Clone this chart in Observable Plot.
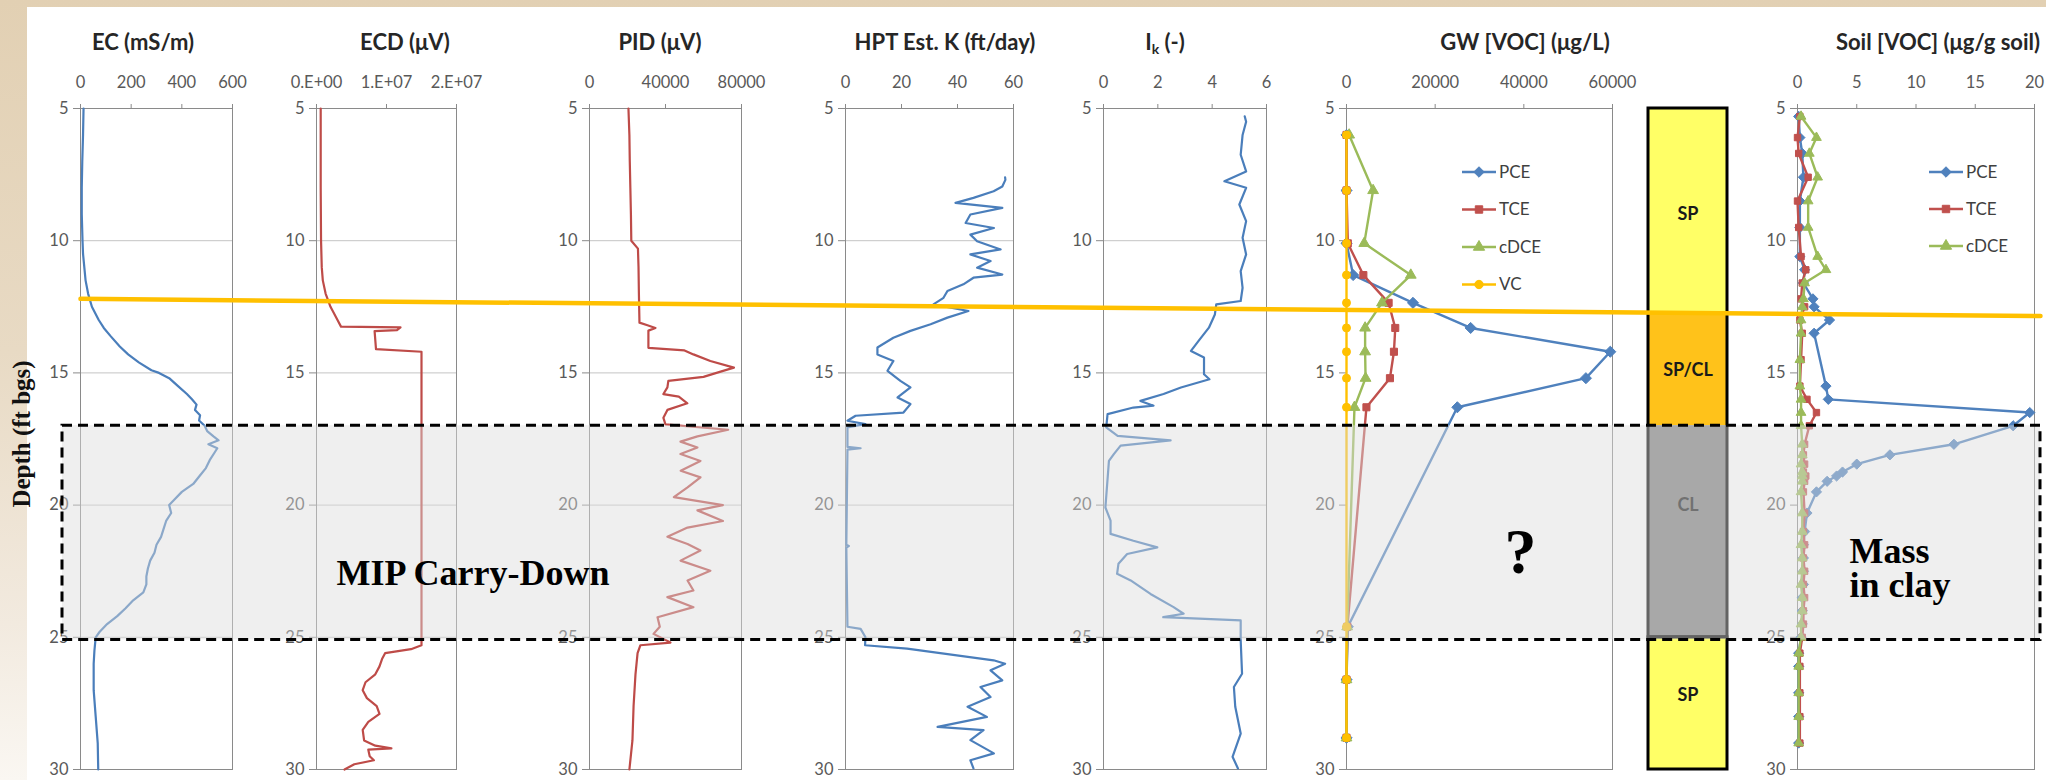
<!DOCTYPE html>
<html>
<head>
<meta charset="utf-8">
<script src="https://cdn.jsdelivr.net/npm/d3@7"></script>
<script src="https://cdn.jsdelivr.net/npm/@observablehq/plot@0.6"></script>
<style>
  html, body { margin:0; padding:0; background:#fff; }
  #root { position:relative; width:2046px; height:780px; overflow:hidden;
          background: linear-gradient(180deg, #e2d0b3 0%, #e8dac4 45%, #f2eadf 80%, #faf7f2 100%); }
  #sheet { position:absolute; left:27px; top:7px; width:2019px; height:773px; background:#fff; }
  .title { position:absolute; top:28px; transform:translateX(-50%); font-family:Lato, sans-serif; font-weight:700;
           font-size:22px; color:#262626; white-space:nowrap; line-height:28px; }
  .title sub { font-size:14px; vertical-align:-4px; line-height:0; }
  .ylab { position:absolute; left:22px; top:434px; transform:translate(-50%,-50%) rotate(-90deg);
          font-family:"Liberation Serif", serif; font-weight:700; font-size:25px; color:#111; white-space:nowrap; }
  svg { overflow:visible; }
</style>
</head>
<body>
<div id="root"><div id="sheet"></div></div>
<script>
// ================= DATA =================
const depthTicks = [5, 10, 15, 20, 25, 30];
const gridDepths = [10, 15, 20, 25];

const ecTicks = [0, 200, 400, 600];
const ecdTicks = [0, 1e7, 2e7];
const ecdTickLabels = ["0.E+00", "1.E+07", "2.E+07"];
const pidTicks = [0, 40000, 80000];
const hptTicks = [0, 20, 40, 60];
const ikTicks = [0, 2, 4, 6];
const gwTicks = [0, 20000, 40000, 60000];
const soilTicks = [0, 5, 10, 15, 20];

const panelTitles = ["EC (mS/m)", "ECD (μV)", "PID (μV)", "HPT Est. K (ft/day)", "I<sub>k</sub> (-)", "GW [VOC] (μg/L)", "Soil [VOC] (μg/g soil)"];

// EC log (mS/m)
const ecDepth = [5,6,7,8,9,10,10.5,11,11.5,12,12.5,13,13.3,13.6,14,14.3,14.6,14.9,15.0,15.2,15.5,15.8,16.0,16.2,16.4,16.6,16.8,17.0,17.2,17.4,17.55,17.7,17.85,18.0,18.3,18.6,18.9,19.2,19.5,19.8,20.0,20.3,20.6,20.9,21.2,21.5,21.8,22.1,22.4,22.7,23.0,23.3,23.6,23.9,24.2,24.5,24.8,25.0,25.5,26,27,28,29,30];
const ecValue = [12,10,7,5,5,8,10,15,20,30,45,72,92,118,155,188,230,280,310,350,385,420,440,458,452,472,468,490,500,525,545,505,540,530,510,495,470,445,400,370,350,358,338,328,318,300,292,275,266,260,260,248,208,178,145,105,75,60,55,52,52,60,68,70];

// ECD log (uV)
const ecdDepth = [5,8,10,11,11.5,12,12.5,13,13.25,13.28,13.38,13.42,14.1,14.2,25.3,25.45,25.6,25.8,26.1,26.4,26.7,27.0,27.3,27.6,27.9,28.2,28.5,28.9,29.1,29.2,29.25,29.5,29.65,29.8,30];
const ecdValue = [6e5,6e5,6.5e5,7.5e5,9e5,1.3e6,2.0e6,3.0e6,3.5e6,1.2e7,1.15e7,8.3e6,8.5e6,1.5e7,1.5e7,1.35e7,9.8e6,9.4e6,9.0e6,8.4e6,7.0e6,6.6e6,7.2e6,8.6e6,9.0e6,7.4e6,6.6e6,6.8e6,8.4e6,1.07e7,7.4e6,7.6e6,8.2e6,5.4e6,4.0e6];

// PID log (uV)
const pidDepth = [5,6,7,8,9,10,10.3,11,12,13.1,13.2,13.3,13.4,14.05,14.15,14.3,14.55,14.8,14.95,15.15,15.3,15.55,15.8,15.9,16.15,16.4,16.7,16.95,17.15,17.4,17.6,17.82,18.07,18.33,18.7,18.95,19.33,19.7,20.0,20.2,20.6,20.85,21.2,21.47,21.72,22.1,22.48,22.85,23.23,23.48,23.86,24.24,24.6,24.87,25.2,25.3,25.6,26.4,27.6,28.9,30];
const pidValue = [20500,21000,21200,21500,21800,22000,25500,25800,26000,26300,30500,34700,31000,31000,50000,54700,63600,76000,69000,60000,41500,41000,38900,47000,51500,41000,38900,40000,73000,56800,47900,56800,47900,58400,48000,58400,51600,44400,70200,56800,70200,51600,41000,51600,58400,47900,63600,51600,54700,41000,54700,35800,37000,33700,42600,26800,25300,24200,23200,22600,21000];

// HPT estimated K (ft/day)
const hptDepth = [7.6,7.7,7.95,8.13,8.38,8.57,8.76,9.01,9.33,9.52,9.77,10.02,10.33,10.52,10.77,11.02,11.28,11.4,11.65,11.9,12.16,12.41,12.66,12.91,13.16,13.41,13.67,14.04,14.3,14.55,14.92,15.3,15.55,15.93,16.18,16.5,16.62,16.81,16.94,17.06,17.8,17.85,17.9,21.5,21.55,21.6,24.6,24.68,24.99,25.3,25.43,25.87,26.0,26.25,26.63,26.88,27.26,27.63,28.01,28.39,28.51,28.89,29.39,29.65,29.96];
const hptValue = [57,57.1,56,52.9,45.7,39.3,56,44.6,42.9,53,44.6,47,55.4,44.6,51.8,47,56,45.7,42.1,36.4,35,31.4,43.9,36.4,30.4,23.2,17.1,11.4,11.4,17.1,15,19.6,23.2,18.6,23.2,20.7,3.6,0.7,7.1,0.7,0.7,5.4,0.7,0.3,1.2,0.3,0.7,5.4,7.1,7,22,52.9,57,51.8,56,48.2,51.8,43.6,50.5,32.9,49.3,44.6,53,44.6,45.7];

// Ik (-)
const ikDepth = [5.3,5.5,6.0,6.75,7.38,7.75,8.0,8.63,9.26,9.89,10.52,11.15,11.78,12.28,12.41,12.79,13.29,13.79,14.17,14.42,15.05,15.24,15.55,15.8,16.06,16.24,16.31,16.56,17.06,17.38,17.55,17.75,18.07,18.33,20.09,20.59,21.09,21.35,21.6,21.85,22.22,22.6,22.85,23.36,23.86,24.11,24.24,24.36,24.49,25.12,26.38,26.88,27.63,28.64,29.52,29.96];
const ikValue = [5.2,5.25,5.12,5.05,5.25,4.45,5.25,5.0,5.25,5.12,5.25,5.05,5.12,5.05,4.15,4.1,3.88,3.5,3.22,3.7,3.7,3.9,2.85,2.21,1.36,1.84,1.1,0.15,0.1,0.52,2.47,0.63,0.38,0.2,0.07,0.26,0.26,1.1,1.98,0.87,0.55,0.5,1.0,1.73,2.58,2.95,2.2,5.05,5.05,5.05,5.1,4.8,4.85,5.05,4.75,4.95];

// Groundwater VOC (ug/L)
const gwDepth = [6.0, 8.1, 10.1, 11.3, 12.35, 13.3, 14.2, 15.2, 16.3, 24.6, 26.6, 28.8];
const gwPCE  = [0, 0, 0, 1500, 15000, 28000, 59500, 54000, 25000, 300, 0, 0];
const gwTCE  = [0, 0, 300, 3800, 9500, 11000, 10700, 9800, 4500, 200, 0, 0];
const gwCDCE = [600, 6000, 4000, 14500, 8000, 4200, 4200, 4300, 1800, 150, 0, 0];
const gwVC   = [0, 0, 0, 0, 0, 0, 0, 0, 0, 0, 0, 0];
const gwNames = ["PCE", "TCE", "cDCE", "VC"];

// Soil VOC (ug/g soil)
const soilDepth = [5.3,6.1,6.7,7.6,8.5,9.5,10.6,11.1,11.6,12.2,12.5,13.0,13.5,14.5,15.5,16.0,16.5,17.0,17.7,18.1,18.45,18.75,18.9,19.1,19.5,20.3,21.0,21.5,22.0,22.5,23.0,23.5,24.0,24.5,25.0,25.6,26.1,27.1,28.0,29.0];
const soilPCE  = [0.1,0.2,0.4,0.5,0.2,0.2,0.2,0.6,0.5,1.3,1.4,2.7,1.4,null,2.4,2.6,19.6,18.2,13.2,7.8,5.0,3.8,3.3,2.5,1.6,0.8,0.6,0.5,0.5,0.5,0.5,0.4,0.4,0.4,0.3,0.1,0.1,0.1,0.1,0.1];
const soilTCE  = [0.2,0.0,0.1,0.9,0.0,0.1,0.3,0.7,0.4,0.3,0.6,0.2,0.4,0.3,0.2,0.8,1.6,1.0,0.6,0.5,0.6,0.5,0.7,0.6,0.5,0.6,0.5,0.6,0.5,0.6,0.5,0.6,0.5,0.5,0.4,0.2,0.2,0.2,0.2,0.2];
const soilCDCE = [0.3,1.6,1.0,1.7,0.9,0.9,1.7,2.4,0.6,0.5,0.4,0.3,0.3,0.2,0.2,0.3,0.3,0.3,0.4,0.4,0.3,0.4,0.4,0.4,0.3,0.4,0.4,0.3,0.4,0.4,0.3,0.4,0.4,0.3,0.3,0.1,0.1,0.1,0.1,0.1];
const soilNames = ["PCE", "TCE", "cDCE"];

// Lithology
const lithoTop    = [5, 12.75, 17, 25];
const lithoBottom = [12.75, 17, 25, 30];
const lithoCode   = ["SP", "SP/CL", "CL", "SP"];
const lithoLabelDepth = [9, 14.9, 20, 27.2];

// Annotations
const annotationTexts = ["MIP Carry-Down", "?", "Mass", "in clay"];
const depthAxisLabel = "Depth (ft bgs)";
const clayZone = [17, 25.1];          // depth range of the dashed box
const orangeLineDepth = [12.2, 12.85]; // left and right ends

// ================= STYLE =================
const W = 2046, H = 780, MT = 108, MB = 11;
const BLUE = "#4a7ebb", RED = "#be4b48", GREEN = "#9bbb59", ORANGE = "#ffc000";
const seriesColor = {PCE: "#4f81bd", TCE: "#c0504d", cDCE: GREEN, VC: ORANGE};
const seriesSymbol = {PCE: "diamond2", TCE: "square", cDCE: "triangle", VC: "circle"};
const root = document.getElementById("root");
const baseStyle = {fontFamily: "Lato, sans-serif", fontSize: "16.5px", color: "#595959", background: "none", overflow: "visible"};

function place(el, left, top) {
  el.style.position = "absolute";
  el.style.left = left + "px";
  el.style.top = top + "px";
  root.appendChild(el);
}
const pts = (ds, vs) => ds.map((d, i) => ({d, v: vs[i]})).filter(p => p.v != null);

function panel({x1, x2, domain, ticks, format, grid, marks}) {
  const mL = 50, mR = 4;
  const svg = Plot.plot({
    width: x2 - x1 + mL + mR, height: H,
    marginTop: MT, marginBottom: MB, marginLeft: mL, marginRight: mR,
    x: {domain}, y: {domain: [5, 30], reverse: true},
    style: baseStyle,
    marks: [
      grid ? Plot.ruleY(gridDepths, {stroke: "#c4c4c4", strokeWidth: 1}) : null,
      Plot.frame({stroke: "#8a8a8a", strokeWidth: 1}),
      Plot.axisX(ticks, {anchor: "top", tickSize: 5, tickPadding: 16, tickFormat: format || (d => String(d)), label: null, stroke: "#8a8a8a"}),
      Plot.axisY(depthTicks, {anchor: "left", tickSize: 7, tickPadding: 5, label: null, stroke: "#8a8a8a"}),
      ...marks
    ]
  });
  place(svg, x1 - mL, 0);
}

const logLine = (ds, vs, color) => Plot.line(pts(ds, vs), {x: "v", y: "d", stroke: color, strokeWidth: 2.2, strokeLinejoin: "round"});

function seriesMarks(depths, valuesList, names, r) {
  return names.flatMap((name, k) => {
    const data = pts(depths, valuesList[k]);
    return [
      Plot.line(data, {x: "v", y: "d", stroke: seriesColor[name], strokeWidth: 2.4}),
      Plot.dot(data, {x: "v", y: "d", symbol: seriesSymbol[name], r: name === "PCE" ? r + 1 : r, fill: seriesColor[name], stroke: seriesColor[name], strokeWidth: 1})
    ];
  });
}

// ---- panels ----
panel({x1: 80, x2: 232, domain: [0, 600], ticks: ecTicks, grid: true, marks: [logLine(ecDepth, ecValue, BLUE)]});
panel({x1: 316, x2: 456, domain: [0, 2e7], ticks: ecdTicks, format: d => ecdTickLabels[ecdTicks.indexOf(d)], grid: true, marks: [logLine(ecdDepth, ecdValue, RED)]});
panel({x1: 589, x2: 741, domain: [0, 80000], ticks: pidTicks, grid: true, marks: [logLine(pidDepth, pidValue, RED)]});
panel({x1: 845, x2: 1013, domain: [0, 60], ticks: hptTicks, grid: true, marks: [logLine(hptDepth, hptValue, BLUE)]});
panel({x1: 1103, x2: 1266, domain: [0, 6], ticks: ikTicks, grid: true, marks: [logLine(ikDepth, ikValue, BLUE)]});
panel({x1: 1346, x2: 1612, domain: [0, 60000], ticks: gwTicks, grid: false, marks: seriesMarks(gwDepth, [gwPCE, gwTCE, gwCDCE, gwVC], gwNames, 4)});
panel({x1: 1797, x2: 2034, domain: [0, 20], ticks: soilTicks, grid: false, marks: seriesMarks(soilDepth, [soilPCE, soilTCE, soilCDCE], soilNames, 3.6)});

// ---- lithology column ----
const lithoData = lithoCode.map((c, i) => ({code: c, top: lithoTop[i], bottom: lithoBottom[i], label: lithoLabelDepth[i]}));
const lithoFill = {"SP": "#ffff66", "SP/CL": "#ffc21a", "CL": "#7f7f7f"};
const lithoBoxes = [{t: lithoTop[0], b: lithoTop[3]}, {t: lithoTop[3], b: lithoBottom[3]}];
const litho = Plot.plot({
  width: 83, height: H, marginTop: MT, marginBottom: MB, marginLeft: 2, marginRight: 2,
  x: {domain: [0, 1], axis: null}, y: {domain: [5, 30], reverse: true, axis: null},
  color: {type: "identity"},
  style: baseStyle,
  marks: [
    Plot.rect(lithoData, {x1: 0, x2: 1, y1: "top", y2: "bottom", fill: d => lithoFill[d.code]}),
    Plot.rect(lithoBoxes, {x1: 0, x2: 1, y1: "t", y2: "b", fill: "none", stroke: "#000", strokeWidth: 3}),
    Plot.text(lithoData, {x: 0.5, y: "label", text: "code", fontWeight: "bold", fontSize: 18, fill: "#1a1a1a", fontFamily: "Lato, sans-serif"})
  ]
});
place(litho, 1646, 0);

// ---- legends ----
function legend(names, x, y0, step) {
  const svg = d3.create("svg").attr("width", 120).attr("height", step * names.length + 10);
  names.forEach((name, i) => {
    const g = svg.append("g").attr("transform", `translate(0,${i * step + 8})`);
    g.append("line").attr("x1", 0).attr("x2", 34).attr("stroke", seriesColor[name]).attr("stroke-width", 2.4);
    const sym = {diamond2: d3.symbolDiamond2, square: d3.symbolSquare, triangle: d3.symbolTriangle, circle: d3.symbolCircle}[seriesSymbol[name]];
    g.append("path").attr("transform", "translate(17,0)").attr("d", d3.symbol(sym, name === "PCE" ? 70 : 55)())
      .attr("fill", seriesColor[name]).attr("stroke", seriesColor[name]);
    g.append("text").attr("x", 37).attr("dy", "0.35em").attr("font-family", "Lato, sans-serif").attr("font-size", 17).attr("fill", "#404040").text(name);
  });
  place(svg.node(), x, y0 - 8);
}
legend(gwNames, 1462, 172, 37.5);
legend(soilNames, 1929, 172, 37);

// ---- overlay: water-table line, clay zone box, annotations ----
const zone = [{x1: 62, x2: 2040, y1: clayZone[0], y2: clayZone[1]}];
const overlay = Plot.plot({
  width: W, height: H, marginTop: MT, marginBottom: MB, marginLeft: 0, marginRight: 0,
  x: {domain: [0, W], axis: null}, y: {domain: [5, 30], reverse: true, axis: null},
  style: baseStyle,
  marks: [
    Plot.rect(zone, {x1: "x1", x2: "x2", y1: "y1", y2: "y2", fill: "#dcdcdc", fillOpacity: 0.45}),
    Plot.rect(zone, {x1: "x1", x2: "x2", y1: "y1", y2: "y2", fill: "none", stroke: "#000", strokeWidth: 3, strokeDasharray: "10,6"}),
    Plot.line([{x: 80, y: orangeLineDepth[0]}, {x: 2040, y: orangeLineDepth[1]}], {x: "x", y: "y", stroke: ORANGE, strokeWidth: 4.5}),
    Plot.text([annotationTexts[0]], {x: 336, y: 22.6, text: d => d, textAnchor: "start", fontFamily: "Liberation Serif, serif", fontWeight: "bold", fontSize: 36, fill: "#000"}),
    Plot.text([annotationTexts[1]], {x: 1520, y: 21.8, text: d => d, fontFamily: "Liberation Serif, serif", fontWeight: "bold", fontSize: 64, fill: "#000"}),
    Plot.text([annotationTexts[2]], {x: 1849, y: 21.75, text: d => d, textAnchor: "start", fontFamily: "Liberation Serif, serif", fontWeight: "bold", fontSize: 36, fill: "#000"}),
    Plot.text([annotationTexts[3]], {x: 1849, y: 23.05, text: d => d, textAnchor: "start", fontFamily: "Liberation Serif, serif", fontWeight: "bold", fontSize: 36, fill: "#000"})
  ]
});
place(overlay, 0, 0);

// ---- titles ----
const titleCenters = [143, 405, 660, 945, 1165, 1525, 1938];
panelTitles.forEach((t, i) => {
  const div = document.createElement("div");
  div.className = "title";
  div.innerHTML = t;
  div.style.left = titleCenters[i] + "px";
  root.appendChild(div);
});

const yl = document.createElement("div");
yl.className = "ylab";
yl.textContent = depthAxisLabel;
root.appendChild(yl);
</script>
</body>
</html>
